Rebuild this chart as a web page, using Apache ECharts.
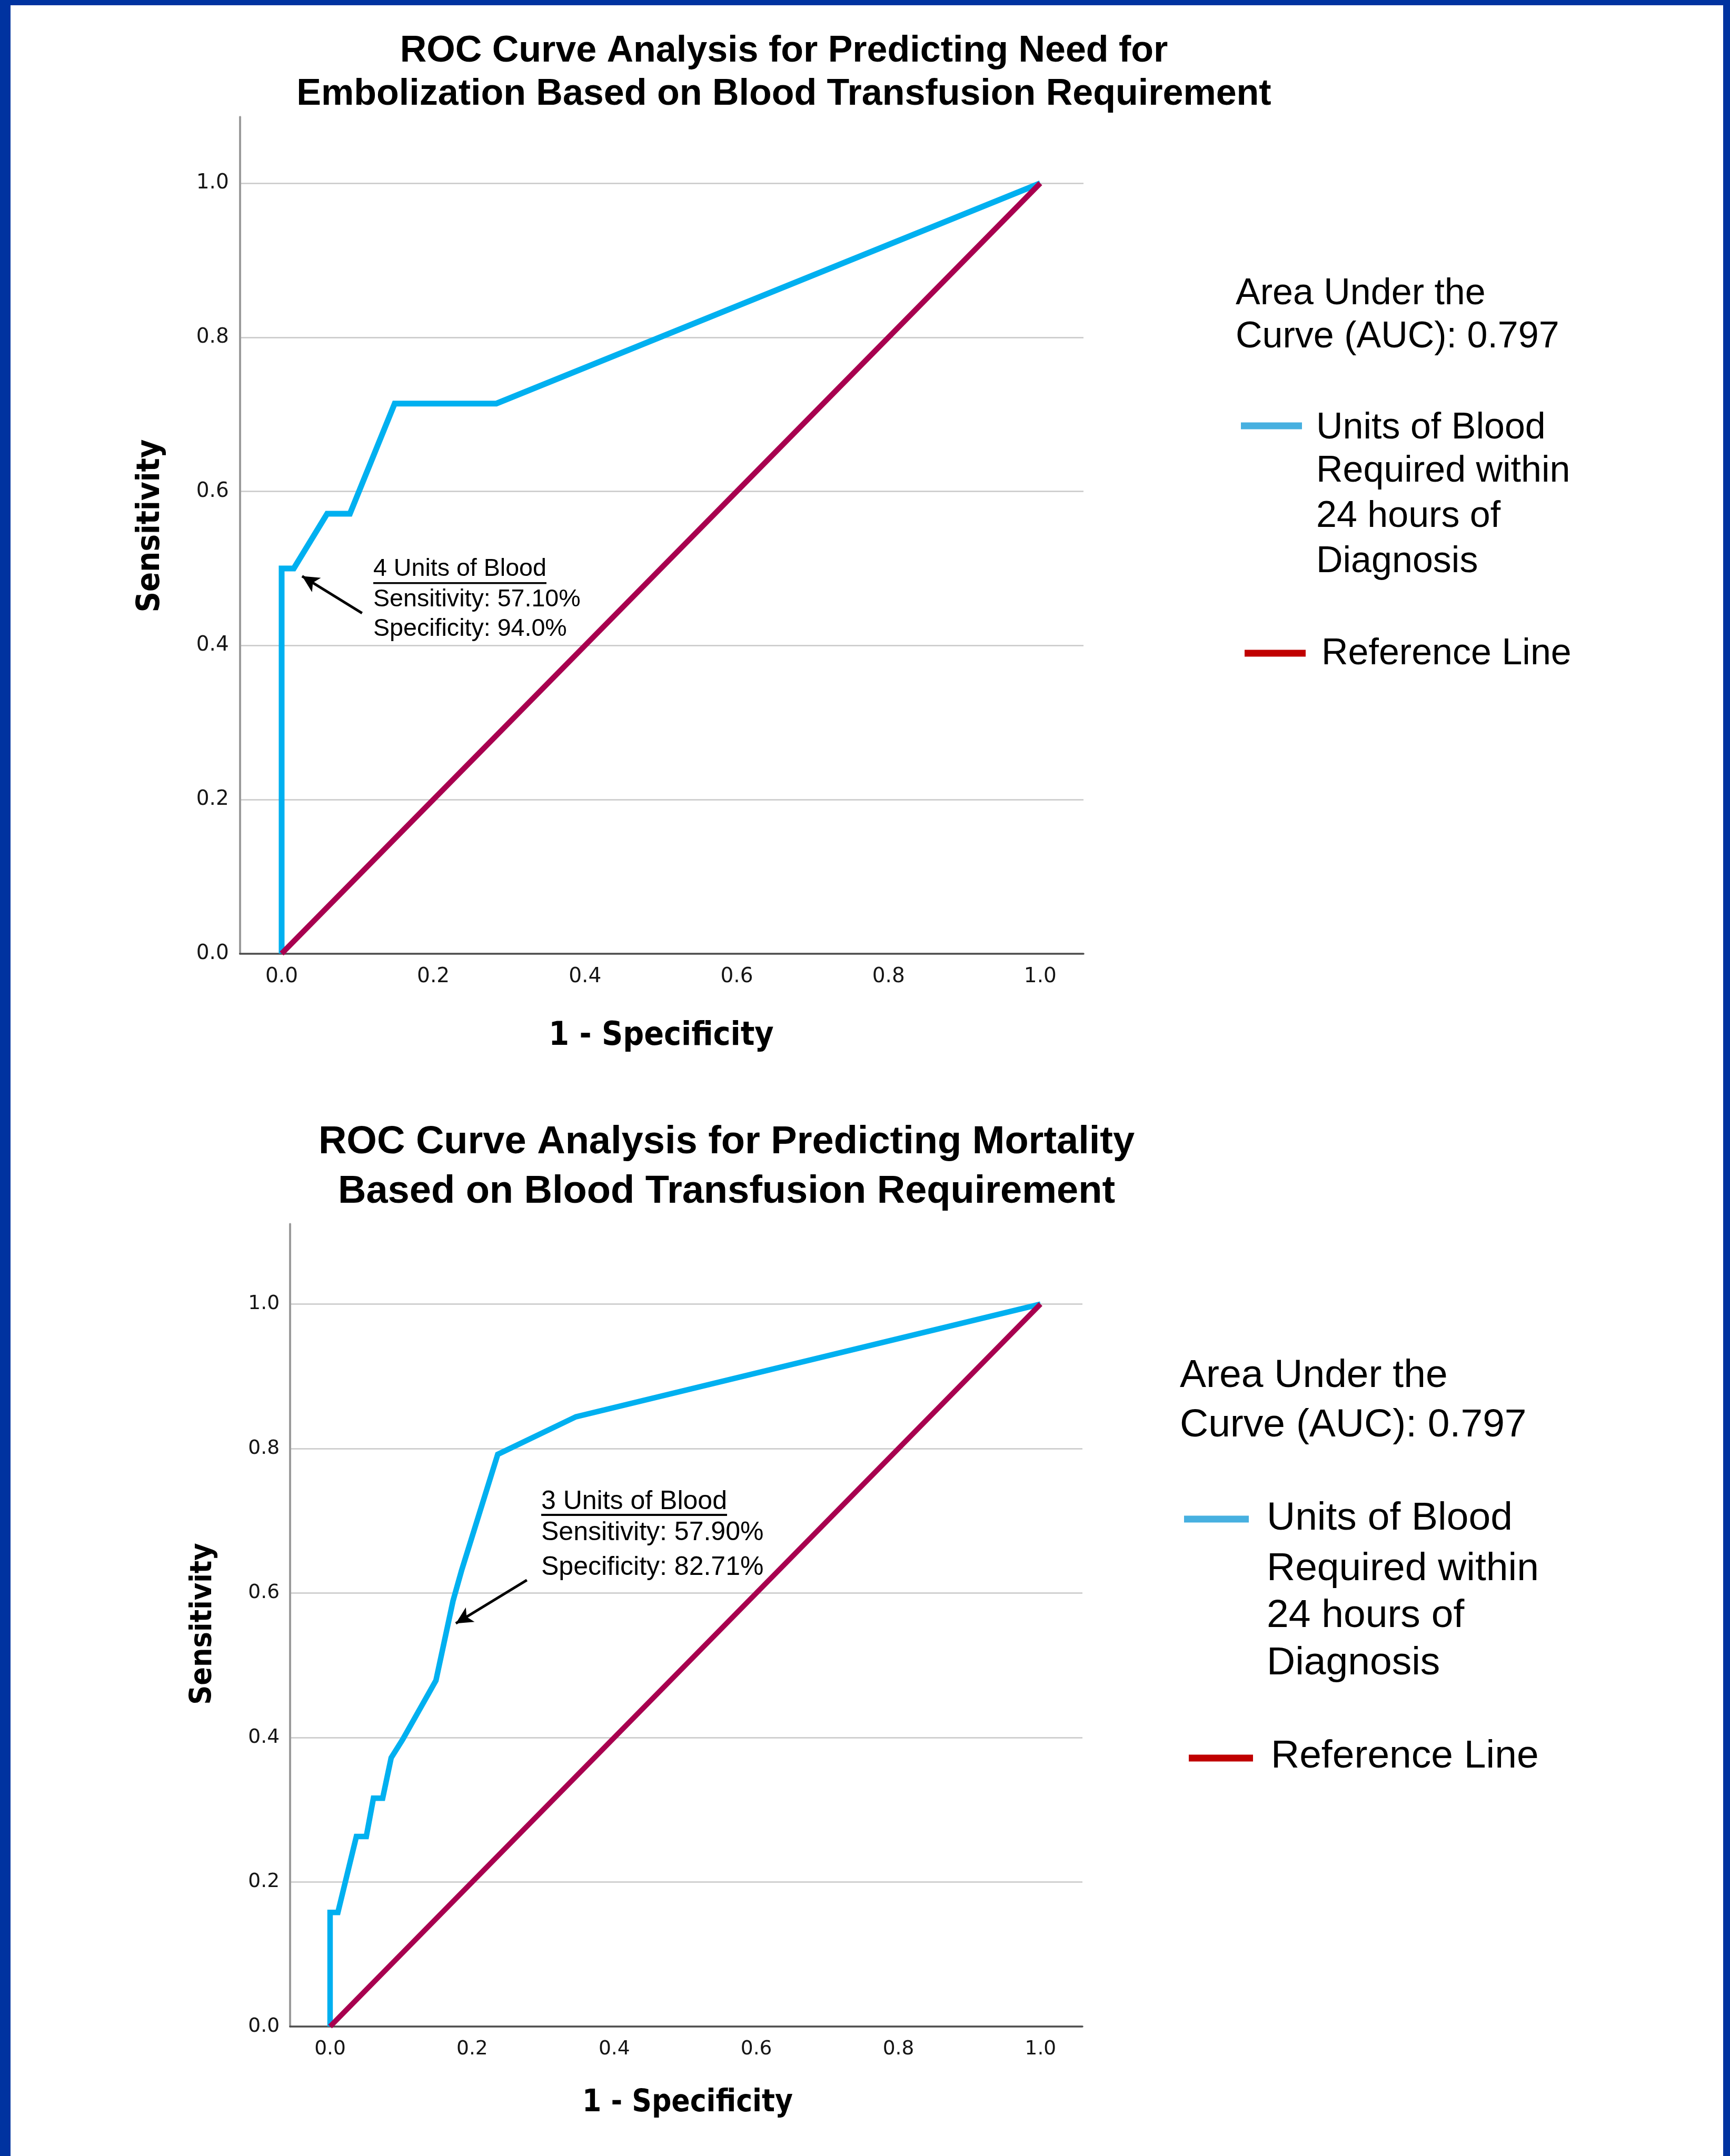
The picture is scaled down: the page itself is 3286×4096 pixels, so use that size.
<!DOCTYPE html>
<html><head><meta charset="utf-8">
<script src="https://cdn.jsdelivr.net/npm/echarts@6/dist/echarts.min.js"></script>
<style>html,body{margin:0;padding:0;background:#fff;}#c{width:3286px;height:4096px;}</style>
</head><body><div id="c"></div>
<script>
// ---------------- data ----------------
const tickValues = [0, 0.2, 0.4, 0.6, 0.8, 1.0];

// Chart 1: embolization
const embolFpr  = [0, 0, 0.016, 0.060, 0.090, 0.149, 0.283, 1.0];
const embolSens = [0, 0.500, 0.500, 0.571, 0.571, 0.714, 0.714, 1.0];
// Chart 2: mortality
const mortFpr  = [0, 0, 0.011, 0.037, 0.051, 0.061, 0.074, 0.086, 0.102, 0.149, 0.173, 0.185, 0.236, 0.346, 1.0];
const mortSens = [0, 0.158, 0.158, 0.263, 0.263, 0.316, 0.316, 0.372, 0.397, 0.479, 0.589, 0.631, 0.792, 0.844, 1.0];
// Reference (chance) line
const refX = [0, 1];
const refY = [0, 1];

// annotation arrows: [tail, head] in data units
const arrow1 = [[0.106, 0.442], [0.027, 0.490]];
const arrow2 = [[0.277, 0.618], [0.177, 0.558]];

const title1 = ['ROC Curve Analysis for Predicting Need for', 'Embolization Based on Blood Transfusion Requirement'];
const title2 = ['ROC Curve Analysis for Predicting Mortality', 'Based on Blood Transfusion Requirement'];
const aucText = ['Area Under the', 'Curve (AUC): 0.797'];
const legendCurve = ['Units of Blood', 'Required within', '24 hours of', 'Diagnosis'];
const legendRef = 'Reference Line';
const annot1 = ['4 Units of Blood', 'Sensitivity: 57.10%', 'Specificity: 94.0%'];
const annot2 = ['3 Units of Blood', 'Sensitivity: 57.90%', 'Specificity: 82.71%'];
const xName = '1 - Specificity';
const yName = 'Sensitivity';

// ---------------- styles ----------------
const BLUE = '#00B0F0', CRIMSON = '#A8004F';
const SANS = '"Liberation Sans", Arial, Helvetica, sans-serif';
const COND = '"DejaVu Sans Condensed", "Liberation Sans Narrow", "DejaVu Sans", sans-serif';
const TICKF = '"DejaVu Sans", Verdana, sans-serif';

const zip = (a, b) => a.map((v, i) => [v, b[i]]);

const g1 = {left: 455.7, top: 222.3, width: 1602.3, height: 1589.3};
const g2 = {left: 551, top: 2325.6, width: 1505, height: 1524.4};

function xAxis(gi, min, max, fs, margin) {
  return {
    type: 'value', gridIndex: gi, min: min, max: max,
    axisLine: {show: true, onZero: false, lineStyle: {color: '#4d4d4d', width: 3.5}},
    axisTick: {show: false, customValues: tickValues},
    axisLabel: {customValues: tickValues, formatter: v => v.toFixed(1), fontSize: fs, fontFamily: TICKF, color: '#151515', margin: margin},
    splitLine: {show: false}
  };
}
function yAxis(gi, max, fs, margin) {
  return {
    type: 'value', gridIndex: gi, min: 0, max: max,
    axisLine: {show: true, onZero: false, lineStyle: {color: '#9b9b9b', width: 4}},
    axisTick: {show: false, customValues: tickValues},
    axisLabel: {customValues: tickValues, formatter: v => v.toFixed(1), fontSize: fs, fontFamily: TICKF, color: '#151515', margin: margin, padding: [10, 0, 0, 0]},
    splitLine: {show: true, lineStyle: {color: '#c8c8c8', width: 2.5}}
  };
}
function arrowLine(a) {
  return {
    silent: true, symbol: ['none', 'arrow'], symbolSize: [24, 32],
    lineStyle: {color: '#000', width: 5, type: 'solid'}, label: {show: false},
    emphasis: {disabled: true},
    data: [[{coord: a[0]}, {coord: a[1]}]]
  };
}

// text measuring for underline
const mctx = document.createElement('canvas').getContext('2d');
function tw(t, size, weight, fam) { mctx.font = (weight || 'normal') + ' ' + size + 'px ' + fam; return mctx.measureText(t).width; }

const G = [];
function T(x, y, text, size, o) {
  o = o || {};
  G.push({type: 'text', x: x, y: y, rotation: o.rot || 0, silent: true,
    style: {text: text, fontSize: size, fontFamily: o.fam || SANS, fontWeight: o.bold ? 'bold' : 'normal',
      fill: '#000', align: o.align || 'left', verticalAlign: 'middle'}});
}
function L(x1, y1, x2, y2, color, w) {
  G.push({type: 'line', silent: true, shape: {x1: x1, y1: y1, x2: x2, y2: y2}, style: {stroke: color, lineWidth: w}});
}

// frame
const FRAME = '#0033A0';
G.push({type: 'rect', silent: true, shape: {x: 0, y: 0, width: 3286, height: 10}, style: {fill: FRAME}});
G.push({type: 'rect', silent: true, shape: {x: 0, y: 0, width: 20, height: 4096}, style: {fill: FRAME}});
G.push({type: 'rect', silent: true, shape: {x: 3273, y: 0, width: 13, height: 4096}, style: {fill: FRAME}});

// titles
T(1489, 97.5, title1[0], 70, {bold: true, align: 'center'});
T(1489, 179.5, title1[1], 70, {bold: true, align: 'center'});
T(1380, 2171, title2[0], 74, {bold: true, align: 'center'});
T(1380, 2265, title2[1], 74, {bold: true, align: 'center'});

// axis titles
T(286, 999, yName, 61, {bold: true, fam: COND, align: 'center', rot: Math.PI / 2});
T(1256, 1969, xName, 62, {bold: true, fam: COND, align: 'center'});
T(386, 3085, yName, 57, {bold: true, fam: COND, align: 'center', rot: Math.PI / 2});
T(1306, 3996, xName, 58, {bold: true, fam: COND, align: 'center'});

// legend 1
T(2347, 559, aucText[0], 70); T(2347, 640.5, aucText[1], 70);
L(2357, 809, 2473, 809, '#47B0E0', 13);
[813.5, 896, 982, 1067.5].forEach((y, i) => T(2500, y, legendCurve[i], 70));
L(2364, 1241, 2480, 1241, '#C00000', 13);
T(2510, 1242.5, legendRef, 70);

// legend 2
T(2241, 2614, aucText[0], 75); T(2241, 2708, aucText[1], 75);
L(2249, 2886, 2372, 2886, '#47B0E0', 13);
[2885, 2981, 3070, 3160].forEach((y, i) => T(2406, y, legendCurve[i], 75));
L(2258, 3340, 2380, 3340, '#C00000', 13);
T(2414, 3337, legendRef, 75);

// annotations
[1081, 1138.7, 1195].forEach((y, i) => T(709, y, annot1[i], 46.6));
L(709, 1107.7, 709 + tw(annot1[0], 46.6, 'normal', SANS), 1107.7, '#000', 3.5);
[2853.5, 2912.5, 2978.5].forEach((y, i) => T(1028, y, annot2[i], 50));
L(1028, 2878, 1028 + tw(annot2[0], 50, 'normal', SANS), 2878, '#000', 4);

const chart = echarts.init(document.getElementById('c'), null, {renderer: 'canvas', width: 3286, height: 4096});
chart.setOption({
  backgroundColor: '#ffffff',
  animation: false,
  grid: [g1, g2],
  xAxis: [xAxis(0, -0.055, 1.057, 39, 25), xAxis(1, -0.0563, 1.059, 37.5, 24)],
  yAxis: [yAxis(0, 1.086, 39, 21), yAxis(1, 1.1107, 37.5, 20)],
  series: [
    {type: 'line', name: 'Units of Blood Required within 24 hours of Diagnosis', xAxisIndex: 0, yAxisIndex: 0,
      data: zip(embolFpr, embolSens), showSymbol: false, symbol: 'none',
      lineStyle: {color: BLUE, width: 11, join: 'miter', cap: 'butt'}, z: 3, markLine: arrowLine(arrow1)},
    {type: 'line', name: 'Reference Line', xAxisIndex: 0, yAxisIndex: 0,
      data: zip(refX, refY), showSymbol: false, symbol: 'none',
      lineStyle: {color: CRIMSON, width: 10.5}, z: 4},
    {type: 'line', name: 'Units of Blood Required within 24 hours of Diagnosis', xAxisIndex: 1, yAxisIndex: 1,
      data: zip(mortFpr, mortSens), showSymbol: false, symbol: 'none',
      lineStyle: {color: BLUE, width: 10.5, join: 'miter', cap: 'butt'}, z: 3, markLine: arrowLine(arrow2)},
    {type: 'line', name: 'Reference Line', xAxisIndex: 1, yAxisIndex: 1,
      data: zip(refX, refY), showSymbol: false, symbol: 'none',
      lineStyle: {color: CRIMSON, width: 10}, z: 4}
  ],
  graphic: G
});
</script>
</body></html>
